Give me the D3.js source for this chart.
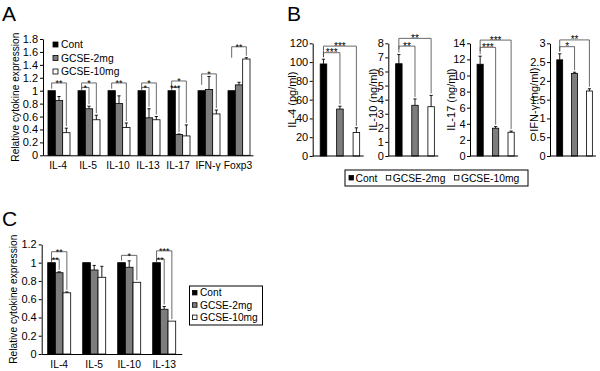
<!DOCTYPE html>
<html>
<head>
<meta charset="utf-8">
<script src="https://cdn.jsdelivr.net/npm/d3@7"></script>
<style>
  body { margin: 0; background: #fff; }
  svg text { font-family: "Liberation Sans", Arial, Helvetica, sans-serif; fill: #000; }
</style>
</head>
<body>
<div id="chart"></div>
<script>
//series
const seriesNames = ["Cont", "GCSE-2mg", "GCSE-10mg"];

//panel A
const aCategories = ["IL-4", "IL-5", "IL-10", "IL-13", "IL-17", "IFN-γ", "Foxp3"];
const aCont = [1, 1, 1, 1, 1, 1, 1];
const a2mg = [0.85, 0.72, 0.8, 0.58, 0.32, 1.02, 1.09];
const a10mg = [0.35, 0.55, 0.43, 0.55, 0.3, 0.64, 1.49];
const a2mgErr = [0.06, 0.04, 0.12, 0.14, 0.01, 0.2, 0.04];
const a10mgErr = [0.07, 0.07, 0.07, 0.05, 0.17, 0.06, 0.02];
const aTicks = [0, 0.2, 0.4, 0.6, 0.8, 1, 1.2, 1.4, 1.6, 1.8];
//significance: category, compared series index, bracket level, label
const aSig = [
  ["IL-4", 2, 1.12, "**"],
  ["IL-5", 2, 1.12, "*"],
  ["IL-5", 1, 1.05, "*"],
  ["IL-10", 2, 1.12, "**"],
  ["IL-13", 2, 1.12, "*"],
  ["IL-13", 1, 1.05, "*"],
  ["IL-17", 2, 1.15, "*"],
  ["IL-17", 1, 1.05, "***"],
  ["IFN-γ", 2, 1.26, "*"],
  ["Foxp3", 2, 1.68, "**"],
];

//panel B
const bLabels = ["IL-4 (pg/ml)", "IL-10 (ng/ml)", "IL-17 (ng/ml)", "IFN-γ (ng/ml)"];
const bValues = [
  [98, 50, 25],
  [6.55, 3.6, 3.5],
  [11.4, 3.45, 2.95],
  [2.56, 2.2, 1.73],
];
const bErrs = [
  [5, 3, 5],
  [0.65, 0.45, 0.8],
  [1.0, 0.2, 0.15],
  [0.16, 0.03, 0.06],
];
const bTicks = [
  [0, 20, 40, 60, 80, 100, 120],
  [0, 1, 2, 3, 4, 5, 6, 7, 8],
  [0, 2, 4, 6, 8, 10, 12, 14],
  [0, 0.5, 1, 1.5, 2, 2.5, 3],
];
const bSig = [
  [[2, 117, "***"], [1, 110, "***"]],
  [[2, 8.35, "**"], [1, 7.8, "**"]],
  [[2, 14.4, "***"], [1, 13.5, "***"]],
  [[2, 3.09, "**"], [1, 2.91, "*"]],
];

//panel C
const cCategories = ["IL-4", "IL-5", "IL-10", "IL-13"];
const cCont = [1, 1, 1, 1];
const c2mg = [0.89, 0.92, 0.95, 0.49];
const c10mg = [0.67, 0.84, 0.785, 0.36];
const c2mgErr = [0.01, 0.05, 0.07, 0.03];
const c10mgErr = [0.01, 0.12, 0, 0];
const cTicks = [0, 0.2, 0.4, 0.6, 0.8, 1, 1.2];
const cSig = [
  ["IL-4", 2, 1.12, "**"],
  ["IL-4", 1, 1.04, "**"],
  ["IL-10", 2, 1.08, "*"],
  ["IL-13", 2, 1.13, "***"],
  ["IL-13", 1, 1.04, "**"],
];

//styles
const fills = ["#000", "#7d7d7d", "#fff"];
const fmt = (d) => String(+d.toFixed(1));

const svg = d3
    .select("#chart")
    .append("svg")
    .attr("width", 600)
    .attr("height", 371);

//panel letters
svg.selectAll("text.letter")
    .data([["A", 2, 21], ["B", 287, 21], ["C", 2, 226]])
    .join("text")
    .attr("class", "letter")
    .attr("x", (d) => d[1])
    .attr("y", (d) => d[2])
    .attr("font-size", 21)
    .text((d) => d[0]);

function bracket(g, x0, x1, yLine, yLeft, yRight, label, fontSize) {
  const leftEnd = Math.max(yLine + 3, Math.min(yLeft - 2, yLine + 11));
  g.append("path")
      .attr("d", `M${x0},${leftEnd}V${yLine}H${x1}V${yRight - 2}`)
      .attr("fill", "none")
      .attr("stroke", "#444")
      .attr("stroke-width", 0.8);
  g.append("text")
      .attr("x", (x0 + x1) / 2)
      .attr("y", yLine + 3.5)
      .attr("text-anchor", "middle")
      .attr("font-size", fontSize)
      .text(label);
}

function errorBar(g, cx, yTop, yErr) {
  if (Math.abs(yTop - yErr) < 0.5) return;
  g.append("path")
      .attr("d", `M${cx},${yTop}V${yErr}M${cx - 1.6},${yErr}H${cx + 1.6}`)
      .attr("stroke", "#000")
      .attr("stroke-width", 0.9)
      .attr("fill", "none");
}

//grouped panel (A and C)
function groupedPanel(opt) {
  const g = svg.append("g");
  const y = d3.scaleLinear().domain([0, opt.ticks[opt.ticks.length - 1]]).range(opt.yRange);
  const x0 = d3.scaleBand().domain(opt.categories).range(opt.xRange);
  const x1 = d3.scaleBand().domain(seriesNames).range(opt.innerRange);

  const rows = opt.categories.map((c, i) => ({
    cat: c,
    values: opt.values.map((s) => s[i]),
    errs: opt.errs.map((s) => s[i]),
  }));

  const grp = g.selectAll("g.grp")
      .data(rows)
      .join("g")
      .attr("class", "grp")
      .attr("transform", (d) => `translate(${x0(d.cat)},0)`);

  grp.selectAll("rect")
      .data((d) => d.values.map((v, j) => ({ v, j, e: d.errs[j] })))
      .join("rect")
      .attr("x", (d) => x1(seriesNames[d.j]))
      .attr("y", (d) => y(d.v))
      .attr("width", x1.bandwidth())
      .attr("height", (d) => y(0) - y(d.v))
      .attr("fill", (d) => fills[d.j])
      .attr("stroke", "#000")
      .attr("stroke-width", 0.8);

  grp.each(function (d) {
    const gg = d3.select(this);
    d.values.forEach((v, j) => {
      const cx = x1(seriesNames[j]) + x1.bandwidth() / 2;
      errorBar(gg, cx, y(v), y(v + d.errs[j]));
    });
  });

  //y axis
  g.append("g")
      .attr("transform", `translate(${opt.xRange[0]},0)`)
      .call(d3.axisLeft(y).tickValues(opt.ticks).tickFormat(fmt).tickSize(3).tickSizeOuter(0).tickPadding(2))
      .call((a) => a.selectAll("text").attr("font-size", 11).style("font-family", null))
      .call((a) => a.selectAll("line,path").attr("stroke", "#000"));

  //x axis
  g.append("g")
      .attr("transform", `translate(0,${y(0)})`)
      .call(d3.axisBottom(x0).tickSize(0).tickSizeOuter(0).tickPadding(6.5))
      .call((a) => a.selectAll("text").attr("font-size", 10.3).style("font-family", null))
      .call((a) => a.select("path").attr("stroke", "#000"));

  //y label
  g.append("text")
      .attr("transform", `translate(${opt.labelX},${(opt.yRange[0] + opt.yRange[1]) / 2}) rotate(-90)`)
      .attr("text-anchor", "middle")
      .attr("font-size", 10.2)
      .text("Relative cytokine expression");

  //significance
  opt.sig.forEach(([cat, j, level, label]) => {
    const i = opt.categories.indexOf(cat);
    const r = rows[i];
    const cx = (k) => x0(cat) + x1(seriesNames[k]) + x1.bandwidth() / 2;
    bracket(g, cx(0), cx(j), y(level),
        y(r.values[0] + r.errs[0]), y(r.values[j] + r.errs[j]), label, 9);
  });

  return g;
}

function legendRows(g, x, yCenters, size, fontSize) {
  seriesNames.forEach((name, j) => {
    g.append("rect")
        .attr("x", x)
        .attr("y", yCenters[j] - size / 2)
        .attr("width", size)
        .attr("height", size)
        .attr("fill", fills[j])
        .attr("stroke", "#000")
        .attr("stroke-width", 0.8);
    g.append("text")
        .attr("x", x + size + 3)
        .attr("y", yCenters[j])
        .attr("dy", "0.35em")
        .attr("font-size", fontSize)
        .text(name);
  });
}

//A
const gA = groupedPanel({
  categories: aCategories,
  values: [aCont, a2mg, a10mg],
  errs: [aCont.map(() => 0), a2mgErr, a10mgErr],
  ticks: aTicks,
  sig: aSig,
  yRange: [155.3, 39],
  xRange: [43, 253],
  innerRange: [5, 27],
  labelX: 18.5,
});
legendRows(gA, 53, [44.5, 58, 71.5], 5, 10.3);

//C
const gC = groupedPanel({
  categories: cCategories,
  values: [cCont, c2mg, c10mg],
  errs: [cCont.map(() => 0), c2mgErr, c10mgErr],
  ticks: cTicks,
  sig: cSig,
  yRange: [354, 244.4],
  xRange: [41.7, 181.7],
  innerRange: [6, 29],
  labelX: 17,
});
gC.append("rect")
    .attr("x", 189.5)
    .attr("y", 286)
    .attr("width", 73)
    .attr("height", 39)
    .attr("fill", "none")
    .attr("stroke", "#000")
    .attr("stroke-width", 1);
legendRows(gC, 192.5, [292.7, 305, 317.3], 4.5, 10.2);

//B small panels
const bLayout = [
  { x: 312.7, w: 51, labelOff: 16.5 },
  { x: 388.3, w: 50, labelOff: 11 },
  { x: 470, w: 48, labelOff: 15 },
  { x: 550, w: 46, labelOff: 12 },
];
const bTop = 43.3;
const bBottom = 156;

bLabels.forEach((label, p) => {
  const L = bLayout[p];
  const g = svg.append("g").attr("transform", `translate(${L.x},0)`);
  const ticks = bTicks[p];
  const y = d3.scaleLinear().domain([0, ticks[ticks.length - 1]]).range([bBottom, bTop]);
  const x = d3.scaleBand().domain(seriesNames).range([0, L.w])
      .paddingInner(0.6).paddingOuter(0.35).align(0.65);

  g.selectAll("rect")
      .data(bValues[p])
      .join("rect")
      .attr("x", (d, j) => x(seriesNames[j]))
      .attr("y", (d) => y(d))
      .attr("width", x.bandwidth())
      .attr("height", (d) => bBottom - y(d))
      .attr("fill", (d, j) => fills[j])
      .attr("stroke", "#000")
      .attr("stroke-width", 0.8);

  bValues[p].forEach((v, j) => {
    errorBar(g, x(seriesNames[j]) + x.bandwidth() / 2, y(v), y(v + bErrs[p][j]));
  });

  g.append("g")
      .call(d3.axisLeft(y).tickValues(ticks).tickFormat(fmt).tickSize(3).tickSizeOuter(0).tickPadding(1.5))
      .call((a) => a.selectAll("text").attr("font-size", 11).style("font-family", null))
      .call((a) => a.selectAll("line,path").attr("stroke", "#000"));

  g.append("line")
      .attr("x1", 0)
      .attr("x2", L.w)
      .attr("y1", bBottom)
      .attr("y2", bBottom)
      .attr("stroke", "#000");

  g.append("text")
      .attr("transform", `translate(${-L.labelOff},${(bTop + bBottom) / 2}) rotate(-90)`)
      .attr("text-anchor", "middle")
      .attr("font-size", 11)
      .text(label);

  const cx = (j) => x(seriesNames[j]) + x.bandwidth() / 2;
  bSig[p].forEach(([j, level, lab]) => {
    bracket(g, cx(0), cx(j), y(level),
        y(bValues[p][0] + bErrs[p][0]), y(bValues[p][j] + bErrs[p][j]), lab, 10);
  });
});

//B legend (both GCSE swatches are open in the original)
const gBL = svg.append("g");
gBL.append("rect")
    .attr("x", 345)
    .attr("y", 170)
    .attr("width", 183)
    .attr("height", 16)
    .attr("fill", "none")
    .attr("stroke", "#000")
    .attr("stroke-width", 1);
let lx = 349;
seriesNames.forEach((name, j) => {
  gBL.append("rect")
      .attr("x", lx)
      .attr("y", 178 - 2.5)
      .attr("width", 4.5)
      .attr("height", 4.5)
      .attr("fill", j === 0 ? "#000" : "#fff")
      .attr("stroke", "#000")
      .attr("stroke-width", 0.8);
  const t = gBL.append("text")
      .attr("x", lx + 6.5)
      .attr("y", 178)
      .attr("dy", "0.35em")
      .attr("font-size", 10.3)
      .text(name);
  lx += 6.5 + t.node().getComputedTextLength() + 9;
});
</script>
</body>
</html>
